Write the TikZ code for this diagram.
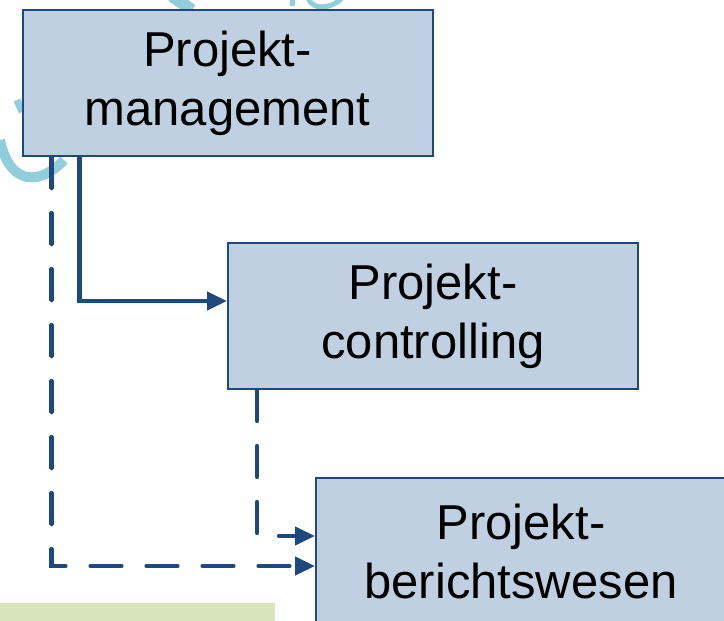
\documentclass[tikz,border=0pt]{standalone}
\usepackage{fontspec}
\setmainfont{Liberation Sans}
\usetikzlibrary{arrows.meta, positioning, calc}
\definecolor{boxblue}{RGB}{192, 208, 226}
\definecolor{linkblue}{RGB}{31, 73, 125}
\definecolor{markcyan}{RGB}{146, 205, 220}
\definecolor{notegreen}{RGB}{216, 228, 188}

\begin{document}
\begin{tikzpicture}[x=1pt, y=-1pt,
  orgbox/.style={draw=linkblue, fill=boxblue, line width=2pt, minimum width=410pt, minimum height=146pt, align=center, inner sep=0pt, font=\fontsize{49}{59}\selectfont},
  link/.style={draw=linkblue, line width=4.2pt, -{Triangle[length=20pt, width=18pt]}},
  dashlink/.style={link, dash pattern=on 31pt off 25pt, line cap=round}
]
  \useasboundingbox (0,0) rectangle (724,621);

  % Watermark traces
  \draw[markcyan, line width=10pt] (0,140) .. controls (10,188) and (42,184) .. (64,160);
  \draw[markcyan, line width=7pt] (17,100) -- (22,112);
  \draw[markcyan, line width=12pt] (172,-4) -- (192,10);
  \draw[markcyan, line width=5pt] (293,-2) -- (292,6);
  \draw[markcyan, line width=5pt] (308,-2) .. controls (312,10) and (330,10) .. (342,-2);
  \fill[notegreen] (0,603) rectangle (275,621);

  % Boxes
  \node[orgbox] (pm) at (227.5,83) {Projekt-\\management};
  \node[orgbox] (pc) at (433,316) {Projekt-\\controlling};
  \node[orgbox] (pb) at (521,551) {Projekt-\\berichtswesen};

  % Links
  \draw[link] ([xshift=58pt]pm.south west) |- ([yshift=15pt]pc.west);
  \draw[dashlink] ([xshift=30pt]pm.south west) |- ([yshift=-15pt]pb.west);
  \draw[dashlink] ([xshift=30pt]pc.south west) |- ([yshift=15pt]pb.west);
\end{tikzpicture}
\end{document}
